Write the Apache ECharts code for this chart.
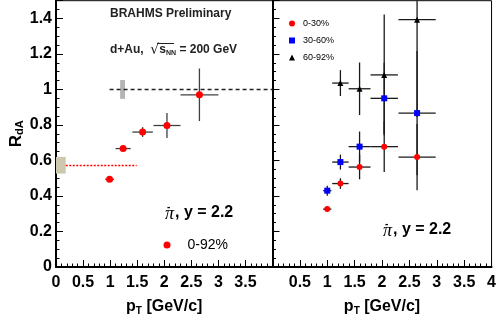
<!DOCTYPE html>
<html>
<head>
<meta charset="utf-8">
<script src="https://cdn.jsdelivr.net/npm/echarts@6/dist/echarts.min.js"></script>
<style>
  html, body { margin: 0; padding: 0; background: #fff; }
  #chart { width: 499px; height: 321px; }
</style>
</head>
<body>
<div id="chart"></div>
<script>
// left panel: 0-92% centrality
const leftX = [0.99, 1.24, 1.60, 2.05, 2.65];
const leftY = [0.494, 0.667, 0.76, 0.797, 0.97];
const leftXErr = [0.08, 0.14, 0.19, 0.25, 0.35];
const leftYErr = [0.01, 0.015, 0.028, 0.071, 0.148];

// right panel: centrality classes
const rightX = [1.0, 1.24, 1.59, 2.04, 2.64];
const rightXErr = [0.075, 0.15, 0.2, 0.25, 0.34];
const c0_30 = [0.326, 0.47, 0.563, 0.678, 0.619];
const c0_30Err = [0.01, 0.03, 0.069, 0.143, 0.186];
const c30_60 = [0.43, 0.591, 0.678, 0.95, 0.867];
const c30_60Err = [0.028, 0.042, 0.085, 0.2, 0.35];
const c60_92 = [null, 1.036, 1.004, 1.082, 1.393];
const c60_92Err = [null, 0.073, 0.148, 0.34, 0.55];

// reference lines and normalisation boxes [x, y, halfWidth, halfHeight]
const unityLine = [[0.99, 1], [4, 1]];
const ppLine = [[0.18, 0.572], [1.49, 0.572]];
const grayBox = [[1.23, 1.0, 0.045, 0.053]];
const tanBox = [[0.09, 0.573, 0.09, 0.047]];

const xTicks = { min: 0, max: 4, interval: 0.5 };
const yTicks = { min: 0, max: 1.5, interval: 0.2 };

const FONT = "Liberation Sans";

function pts(xs, ys) {
  return xs.map((x, i) => [x, ys[i]]).filter(d => d[1] != null);
}
function errs(xs, ys, xe, ye) {
  return xs.map((x, i) => [x, ys[i], xe[i], ye[i]]).filter(d => d[1] != null);
}

function errorBars(color) {
  return function (params, api) {
    const x = api.value(0), y = api.value(1), ex = api.value(2), ey = api.value(3);
    const top = Math.min(y + ey, yTicks.max);
    const bot = Math.max(y - ey, yTicks.min);
    const l = api.coord([x - ex, y]), r = api.coord([x + ex, y]);
    const t = api.coord([x, top]), b = api.coord([x, bot]);
    const st = { stroke: color, lineWidth: 1.3 };
    return {
      type: "group",
      children: [
        { type: "line", shape: { x1: l[0], y1: l[1], x2: r[0], y2: r[1] }, style: st },
        { type: "line", shape: { x1: t[0], y1: t[1], x2: b[0], y2: b[1] }, style: st },
      ],
    };
  };
}

function boxItem(color) {
  return function (params, api) {
    const x = api.value(0), y = api.value(1), hw = api.value(2), hh = api.value(3);
    const p1 = api.coord([x - hw, y + hh]), p2 = api.coord([x + hw, y - hh]);
    return {
      type: "rect",
      shape: { x: p1[0], y: p1[1], width: p2[0] - p1[0], height: p2[1] - p1[1] },
      style: { fill: color },
    };
  };
}

function xAxis(gridIndex, hideValue) {
  return {
    gridIndex: gridIndex,
    type: "value",
    ...xTicks,
    name: "{p|p}{s|T}{p| [GeV/c]}",
    nameLocation: "middle",
    nameGap: 31,
    nameTextStyle: {
      rich: {
        p: { fontFamily: FONT, fontWeight: "bold", fontSize: 16, color: "#000" },
        s: { fontFamily: FONT, fontWeight: "bold", fontSize: 10, color: "#000", verticalAlign: "bottom", padding: [8, 0, 0, 0] },
      },
    },
    axisLine: { show: true, onZero: false, lineStyle: { color: "#000", width: 2 } },
    axisTick: { show: true, inside: true, length: 7, lineStyle: { color: "#000", width: 1 } },
    minorTick: { show: true, splitNumber: 5, length: 3.5, lineStyle: { color: "#000", width: 1 } },
    splitLine: { show: false },
    axisLabel: {
      fontFamily: FONT, fontWeight: "bold", fontSize: 16, color: "#000", margin: 8,
      formatter: v => (v === hideValue ? "" : String(v)),
    },
  };
}

const option = {
  animation: false,
  backgroundColor: "#fff",
  grid: [
    { left: 56, top: 0.7, width: 216.5, height: 270, show: true, borderColor: "#000", borderWidth: 1, backgroundColor: "transparent" },
    { left: 272.5, top: 0.7, width: 223.5, height: 270, show: true, borderColor: "#000", borderWidth: 1, backgroundColor: "transparent" },
  ],
  xAxis: [xAxis(0, 4), xAxis(1, 0)],
  yAxis: [
    {
      gridIndex: 0,
      type: "value",
      ...yTicks,
      name: "{r|R}{s|dA}",
      nameLocation: "middle",
      nameRotate: 90,
      nameGap: 26,
      nameTextStyle: {
        rich: {
          r: { fontFamily: FONT, fontWeight: "bold", fontSize: 17, color: "#000" },
          s: { fontFamily: FONT, fontWeight: "bold", fontSize: 11, color: "#000", verticalAlign: "bottom", padding: [8, 0, 0, 0] },
        },
      },
      axisLine: { show: true, onZero: false, lineStyle: { color: "#000", width: 2 } },
      axisTick: { show: true, inside: true, length: 7, lineStyle: { color: "#000", width: 1 } },
      minorTick: { show: true, splitNumber: 4, length: 3.5, lineStyle: { color: "#000", width: 1 } },
      splitLine: { show: false },
      axisLabel: { fontFamily: FONT, fontWeight: "bold", fontSize: 16, color: "#000", margin: 4, showMaxLabel: false },
    },
    {
      gridIndex: 1,
      type: "value",
      ...yTicks,
      axisLine: { show: true, onZero: false, lineStyle: { color: "#000", width: 2 } },
      axisTick: { show: true, inside: true, length: 7, lineStyle: { color: "#000", width: 1 } },
      minorTick: { show: true, splitNumber: 4, length: 3.5, lineStyle: { color: "#000", width: 1 } },
      splitLine: { show: false },
      axisLabel: { show: false },
    },
  ],
  legend: [
    {
      data: ["0-92%"],
      left: 163.5,
      top: 238,
      padding: 0,
      itemWidth: 7,
      itemHeight: 7,
      textStyle: { fontFamily: FONT, fontSize: 14, color: "#000", padding: [0, 0, 0, 12] },
    },
    {
      data: ["0-30%", "30-60%", "60-92%"],
      orient: "vertical",
      left: 289,
      top: 19,
      padding: 0,
      itemWidth: 6,
      itemHeight: 6,
      itemGap: 8,
      textStyle: { fontFamily: FONT, fontSize: 9, color: "#000", padding: [0, 0, 0, 3] },
    },
  ],
  graphic: [
    { type: "text", x: 110, y: 14, style: { text: "BRAHMS Preliminary", font: "bold 12px " + FONT, fill: "#222", verticalAlign: "middle" } },
    {
      type: "text", x: 110, y: 50,
      style: {
        text: "{a|d+Au,  }{q|√}{a|s}{n|NN}{a| = 200 GeV}",
        verticalAlign: "middle",
        rich: {
          a: { font: "bold 12px " + FONT, fill: "#222" },
          q: { font: "14px DejaVu Sans", fill: "#222" },
          n: { font: "bold 7px " + FONT, fill: "#222", verticalAlign: "bottom", padding: [6, 0, 0, 0] },
        },
      },
    },
    { type: "line", shape: { x1: 157, y1: 43.5, x2: 174, y2: 43.5 }, style: { stroke: "#222", lineWidth: 1 } },
    // pi- labels
    { type: "text", x: 165, y: 214, style: { text: "π", font: "italic 18px Liberation Serif", fill: "#000", verticalAlign: "middle" } },
    { type: "text", x: 167, y: 207, style: { text: "-", font: "bold 10px " + FONT, fill: "#000", verticalAlign: "middle" } },
    { type: "text", x: 175, y: 213, style: { text: ", y = 2.2", font: "bold 16px " + FONT, fill: "#000", verticalAlign: "middle" } },
    { type: "text", x: 383, y: 231, style: { text: "π", font: "italic 18px Liberation Serif", fill: "#000", verticalAlign: "middle" } },
    { type: "text", x: 385, y: 224, style: { text: "-", font: "bold 10px " + FONT, fill: "#000", verticalAlign: "middle" } },
    { type: "text", x: 393, y: 230, style: { text: ", y = 2.2", font: "bold 16px " + FONT, fill: "#000", verticalAlign: "middle" } },
  ],
  series: [
    // left panel
    { type: "custom", xAxisIndex: 0, yAxisIndex: 0, renderItem: boxItem("#b4b4b4"), data: grayBox, z: 1, silent: true },
    { type: "custom", xAxisIndex: 0, yAxisIndex: 0, renderItem: boxItem("#cdc9b0"), data: tanBox, z: 1, silent: true },
    {
      type: "line", xAxisIndex: 0, yAxisIndex: 0, data: unityLine, symbol: "none", z: 2, silent: true,
      color: "#222", lineStyle: { color: "#222", width: 1.5, type: [4, 3] },
    },
    {
      type: "line", xAxisIndex: 0, yAxisIndex: 0, data: ppLine, symbol: "none", z: 2, silent: true,
      color: "#ff0000", lineStyle: { color: "#ff0000", width: 1.5, type: [2, 1.5] },
    },
    { type: "custom", xAxisIndex: 0, yAxisIndex: 0, renderItem: errorBars("#404040"), data: errs(leftX, leftY, leftXErr, leftYErr), z: 3 },
    {
      name: "0-92%", type: "scatter", xAxisIndex: 0, yAxisIndex: 0, data: pts(leftX, leftY),
      symbol: "circle", symbolSize: 7, itemStyle: { color: "#ff0000", opacity: 1 }, z: 4,
    },
    // right panel
    { type: "custom", xAxisIndex: 1, yAxisIndex: 1, renderItem: errorBars("#1a1a1a"), data: errs(rightX, c60_92, rightXErr, c60_92Err), z: 3 },
    { type: "custom", xAxisIndex: 1, yAxisIndex: 1, renderItem: errorBars("#1a1a1a"), data: errs(rightX, c30_60, rightXErr, c30_60Err), z: 3 },
    { type: "custom", xAxisIndex: 1, yAxisIndex: 1, renderItem: errorBars("#1a1a1a"), data: errs(rightX, c0_30, rightXErr, c0_30Err), z: 3 },
    {
      name: "0-30%", type: "scatter", xAxisIndex: 1, yAxisIndex: 1, data: pts(rightX, c0_30),
      symbol: "circle", symbolSize: 6, itemStyle: { color: "#ff0000", opacity: 1 }, z: 4,
    },
    {
      name: "30-60%", type: "scatter", xAxisIndex: 1, yAxisIndex: 1, data: pts(rightX, c30_60),
      symbol: "rect", symbolSize: 6, itemStyle: { color: "#0000ff", opacity: 1 }, z: 4,
    },
    {
      name: "60-92%", type: "scatter", xAxisIndex: 1, yAxisIndex: 1, data: pts(rightX, c60_92),
      symbol: "triangle", symbolSize: 6, itemStyle: { color: "#000", opacity: 1 }, z: 4,
    },
  ],
};

const chart = echarts.init(document.getElementById("chart"));
chart.setOption(option);
</script>
</body>
</html>
